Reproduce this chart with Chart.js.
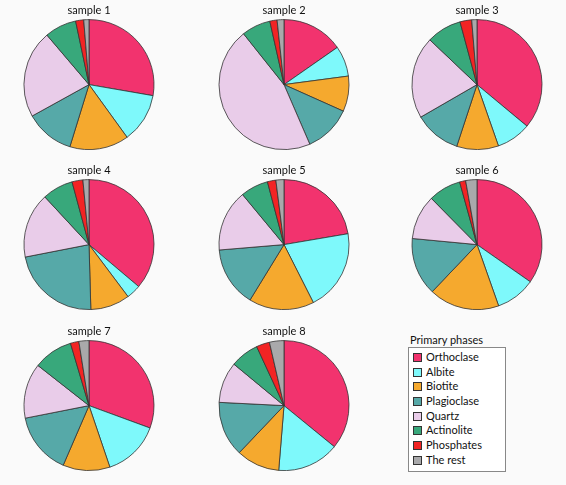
<!DOCTYPE html>
<html>
<head>
<meta charset="utf-8">
<script src="https://cdn.jsdelivr.net/npm/chart.js@4.4.1/dist/chart.umd.min.js"></script>
<style>
  html, body { margin: 0; padding: 0; background: #fafafa; }
  #wrap { position: relative; width: 566px; height: 485px; overflow: hidden; background: #fafafa; }
  .cell { position: absolute; width: 140px; height: 146px; }
  #legend { position: absolute; left: 408px; top: 333px; font-family: Lato, sans-serif; font-size: 11px; color: #111; }
  #legend .ttl { line-height: 14px; margin-left: 2px; }
  #legend .box { border: 1px solid #888; background: #fff; width: 98px; padding: 2px 0 3px 0; box-sizing: border-box; }
  #legend .item { height: 14.7px; line-height: 14.7px; position: relative; padding-left: 17px; white-space: nowrap; }
  #legend .sw { position: absolute; left: 4px; top: 3px; width: 7px; height: 7px; border: 1px solid #333; }
</style>
</head>
<body>
<div id="wrap"></div>
<script>
const phases = ["Orthoclase", "Albite", "Biotite", "Plagioclase", "Quartz", "Actinolite", "Phosphates", "The rest"];
const phaseColors = ["#f2336e", "#7ef9fb", "#f5a92e", "#56a9a8", "#e9cce9", "#38a87b", "#f22424", "#a9a9ab"];
const sampleNames = ["sample 1", "sample 2", "sample 3", "sample 4", "sample 5", "sample 6", "sample 7", "sample 8"];

const sample1 = [27.7, 12.3, 14.7, 12.2, 21.8, 7.9, 2.0, 1.3];
const sample2 = [15.3, 7.6, 8.8, 11.8, 45.8, 7.2, 1.8, 1.7];
const sample3 = [36.0, 8.6, 10.4, 11.6, 20.4, 8.7, 2.9, 1.3];
const sample4 = [36.2, 3.6, 9.8, 22.4, 16.2, 7.7, 2.7, 1.5];
const sample5 = [22.3, 20.2, 16.2, 14.9, 15.3, 6.9, 2.1, 2.0];
const sample6 = [34.7, 9.9, 17.5, 14.4, 11.1, 8.1, 1.5, 2.8];
const sample7 = [30.6, 14.2, 11.7, 15.4, 13.7, 9.8, 2.1, 2.5];
const sample8 = [35.9, 15.4, 10.8, 13.7, 10.2, 7.1, 3.3, 3.6];
const samples = [sample1, sample2, sample3, sample4, sample5, sample6, sample7, sample8];

const lefts = [19, 214, 407];
const tops = [4, 164, 325];

const wrap = document.getElementById('wrap');
samples.forEach((vals, i) => {
  const div = document.createElement('div');
  div.className = 'cell';
  div.style.left = lefts[i % 3] + 'px';
  div.style.top = tops[Math.floor(i / 3)] + 'px';
  const cv = document.createElement('canvas');
  cv.width = 140; cv.height = 146;
  cv.style.width = '140px'; cv.style.height = '146px';
  div.appendChild(cv);
  wrap.appendChild(div);
  new Chart(cv, {
    type: 'pie',
    data: {
      labels: phases,
      datasets: [{
        data: vals,
        backgroundColor: phaseColors,
        borderColor: '#333333',
        borderWidth: 0.8
      }]
    },
    options: {
      responsive: false,
      animation: false,
      devicePixelRatio: 1,
      layout: { padding: 0 },
      plugins: {
        legend: { display: false },
        tooltip: { enabled: false },
        title: {
          display: true,
          text: sampleNames[i],
          color: '#111',
          font: { family: 'Lato', size: 11, weight: 'normal' },
          padding: { top: 0, bottom: 2 }
        }
      }
    }
  });
});

// legend
const lg = document.createElement('div');
lg.id = 'legend';
const ttl = document.createElement('div');
ttl.className = 'ttl';
ttl.textContent = 'Primary phases';
lg.appendChild(ttl);
const box = document.createElement('div');
box.className = 'box';
phases.forEach((p, k) => {
  const it = document.createElement('div');
  it.className = 'item';
  const sw = document.createElement('span');
  sw.className = 'sw';
  sw.style.background = phaseColors[k];
  it.appendChild(sw);
  it.appendChild(document.createTextNode(p));
  box.appendChild(it);
});
lg.appendChild(box);
wrap.appendChild(lg);
</script>
</body>
</html>
